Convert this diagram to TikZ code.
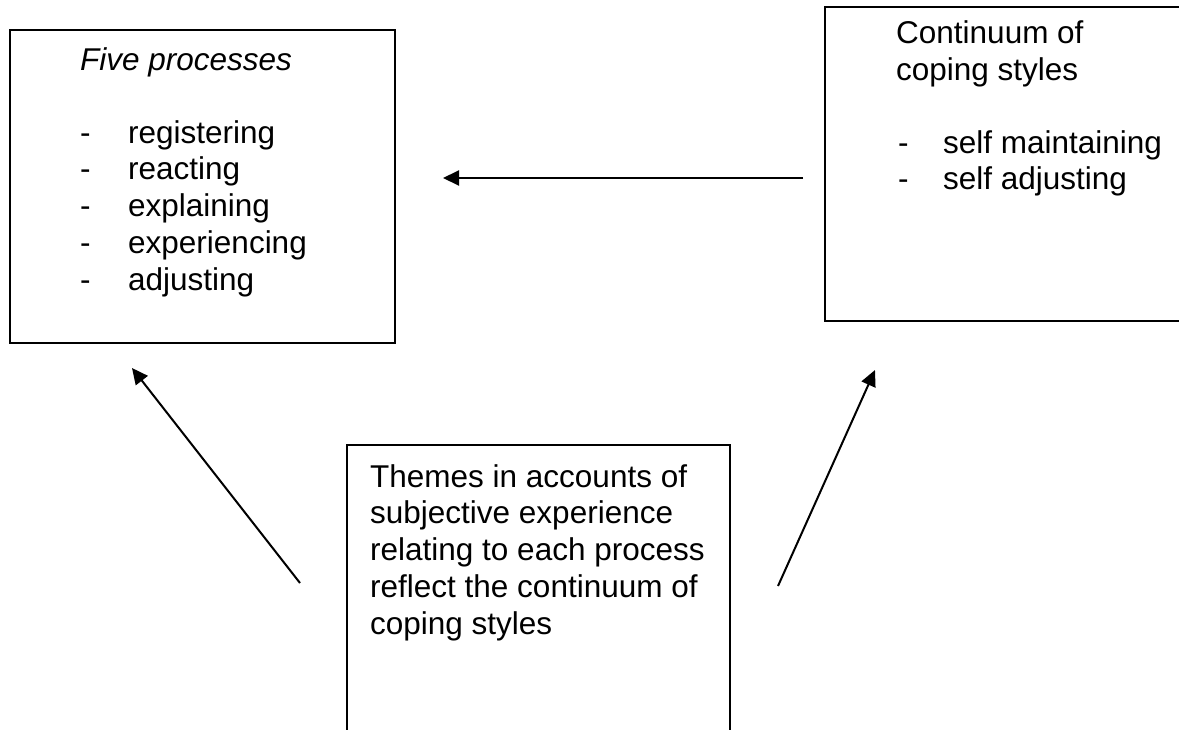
\documentclass[tikz,border=0pt]{standalone}
\usepackage{fontspec}
\setmainfont{Liberation Sans}
\usetikzlibrary{arrows.meta}
\begin{document}
\begin{tikzpicture}[x=1pt,y=-1pt,
  box/.style={draw,line width=1.8pt,anchor=north west,inner sep=0pt,outer sep=0pt},
  txt/.style={anchor=base west,inner sep=0pt,font=\fontsize{31.5}{36.7}\selectfont},
  arr/.style={line width=2pt,-{Triangle[length=16pt,width=15pt]}}]
\useasboundingbox (0,0) rectangle (1179,729);
% boxes
\node[box,minimum width=385pt,minimum height=313pt] (procs) at (10,30) {};
\node[box,minimum width=400pt,minimum height=314pt] (styles) at (825,7) {};
\node[box,minimum width=383pt,minimum height=320pt] (themes) at (347,445) {};
% box 1 text
\node[txt,font=\fontsize{31.5}{36.7}\selectfont\itshape] (t1) at (80,70) {Five processes};
\foreach \w [count=\i] in {registering,reacting,explaining,experiencing,adjusting}{
  \node[txt] (d1\i) at (80,{143+36.75*(\i-1)}) {-};
  \node[txt] (w1\i) at (128,{143+36.75*(\i-1)}) {\w};
}
% box 2 text
\node[txt] (t2a) at (896,43) {Continuum of};
\node[txt] (t2b) at (896,80) {coping styles};
\foreach \w [count=\i] in {self maintaining,self adjusting}{
  \node[txt] (d2\i) at (898,{153+36.75*(\i-1)}) {-};
  \node[txt] (w2\i) at (943,{153+36.75*(\i-1)}) {\w};
}
% box 3 text
\foreach \w [count=\i] in {Themes in accounts of,subjective experience,relating to each process,reflect the continuum of,coping styles}{
  \node[txt] (w3\i) at (370,{487+36.75*(\i-1)}) {\w};
}
% connectors
\coordinate (a1s) at (803,178);
\coordinate (a1e) at (443,178);
\coordinate (a2s) at (300,583);
\coordinate (a2e) at (132,368);
\coordinate (a3s) at (778,586);
\coordinate (a3e) at (875,370);
\draw[arr] (a1s) -- (a1e);
\draw[arr] (a2s) -- (a2e);
\draw[arr] (a3s) -- (a3e);
\end{tikzpicture}
\end{document}
